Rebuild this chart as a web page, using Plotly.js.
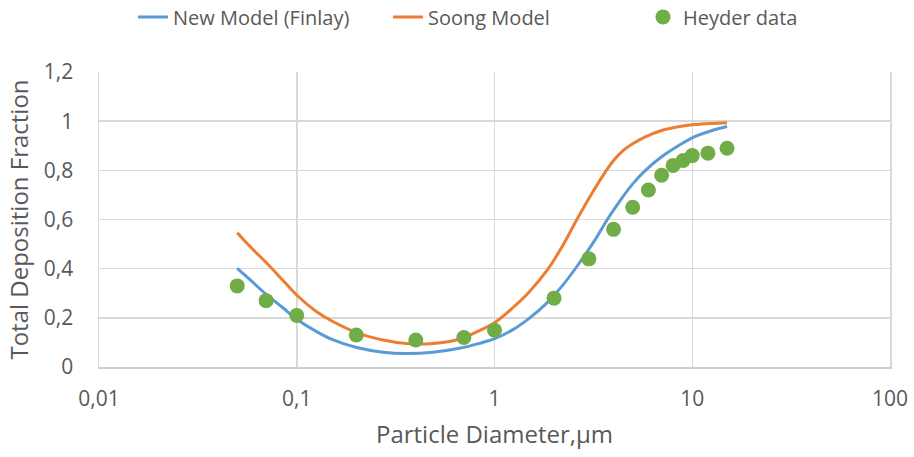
<!DOCTYPE html>
<html>
<head>
<meta charset="utf-8">
<script src="https://cdn.plot.ly/plotly-3.0.1.min.js"></script>
<style>
  html, body { margin: 0; padding: 0; background: #fff; }
  #chart { width: 914px; height: 457px; }
</style>
</head>
<body>
<div id="chart"></div>
<script>
// Total deposition fraction vs particle diameter (µm)
const finlayDiameter = [0.05, 0.0582, 0.0706, 0.0857, 0.1, 0.126, 0.153, 0.201, 0.273, 0.358, 0.488, 0.665, 0.839, 1.0, 1.234, 1.497, 1.815, 2.2, 2.67, 3.24, 3.72, 4.3, 5.0, 5.8, 7.0, 8.5, 10.3, 12.5, 15];
const finlayFraction = [0.401, 0.354, 0.293, 0.239, 0.194, 0.144, 0.11, 0.079, 0.06, 0.055, 0.06, 0.076, 0.096, 0.115, 0.151, 0.198, 0.256, 0.33, 0.42, 0.52, 0.60, 0.675, 0.745, 0.80, 0.855, 0.90, 0.937, 0.961, 0.978];

const soongDiameter = [0.05, 0.0582, 0.0706, 0.0857, 0.1, 0.126, 0.153, 0.201, 0.273, 0.358, 0.488, 0.665, 0.839, 1.0, 1.234, 1.497, 1.87, 2.2, 2.61, 3.1, 3.61, 4.0, 4.5, 5.0, 5.79, 7.0, 8.5, 10.3, 12.5, 15];
const soongFraction = [0.546, 0.489, 0.422, 0.35, 0.293, 0.225, 0.184, 0.14, 0.11, 0.096, 0.096, 0.113, 0.148, 0.18, 0.24, 0.305, 0.40, 0.49, 0.60, 0.705, 0.79, 0.84, 0.882, 0.908, 0.936, 0.962, 0.977, 0.986, 0.991, 0.994];

const heyderDiameter = [0.05, 0.07, 0.1, 0.2, 0.4, 0.7, 1, 2, 3, 4, 5, 6, 7, 8, 9, 10, 12, 15];
const heyderFraction = [0.33, 0.27, 0.21, 0.13, 0.11, 0.12, 0.15, 0.28, 0.44, 0.56, 0.65, 0.72, 0.78, 0.82, 0.84, 0.86, 0.87, 0.89];

const xTickValues = [0.01, 0.1, 1, 10, 100];
const xTickLabels = ['0,01', '0,1', '1', '10', '100'];

const FONT = 'Open Sans, Noto Sans, sans-serif';
const TEXT = '#595959';
const GRID = '#d9d9d9';

const traces = [
  {
    x: finlayDiameter, y: finlayFraction, name: 'New Model (Finlay)',
    type: 'scatter', mode: 'lines', line: { color: '#5b9bd5', width: 3, shape: 'spline' }
  },
  {
    x: soongDiameter, y: soongFraction, name: 'Soong Model',
    type: 'scatter', mode: 'lines', line: { color: '#ed7d31', width: 3, shape: 'spline' }
  },
  {
    x: heyderDiameter, y: heyderFraction, name: 'Heyder data',
    type: 'scatter', mode: 'markers', marker: { color: '#70ad47', size: 15 }
  }
];

const layout = {
  width: 914, height: 457,
  margin: { l: 99, r: 24, t: 72, b: 90 },
  paper_bgcolor: '#fff', plot_bgcolor: '#fff',
  separators: ', ',
  font: { family: FONT, color: TEXT, size: 16 },
  showlegend: true,
  legend: {
    orientation: 'h', x: 0.043, xanchor: 'left',
    yref: 'container', y: 0.963, yanchor: 'middle',
    font: { family: FONT, color: TEXT, size: 20 },
    entrywidthmode: 'pixels', entrywidth: 210
  },
  xaxis: {
    type: 'log', range: [-2, 2],
    tickvals: xTickValues, ticktext: xTickLabels,
    showgrid: true, gridcolor: GRID, gridwidth: 1.5,
    zeroline: false, showline: true, linecolor: '#cfcfcf', linewidth: 1.5,
    ticks: 'outside', ticklen: 12, tickcolor: 'rgba(0,0,0,0)',
    tickfont: { family: FONT, color: TEXT, size: 21 },
    title: { text: 'Particle Diameter,µm', font: { family: FONT, color: TEXT, size: 24 }, standoff: 15 }
  },
  yaxis: {
    range: [0, 1.2], dtick: 0.2,
    showgrid: true, gridcolor: GRID, gridwidth: 1.5,
    zeroline: false, showline: true, mirror: true, linecolor: GRID, linewidth: 1.5,
    ticks: 'outside', ticklen: 20, tickcolor: 'rgba(0,0,0,0)',
    tickfont: { family: FONT, color: TEXT, size: 21 },
    title: { text: 'Total Deposition Fraction', font: { family: FONT, color: TEXT, size: 24 }, standoff: 8 }
  }
};

Plotly.newPlot('chart', traces, layout, { displayModeBar: false, staticPlot: true });
</script>
</body>
</html>
